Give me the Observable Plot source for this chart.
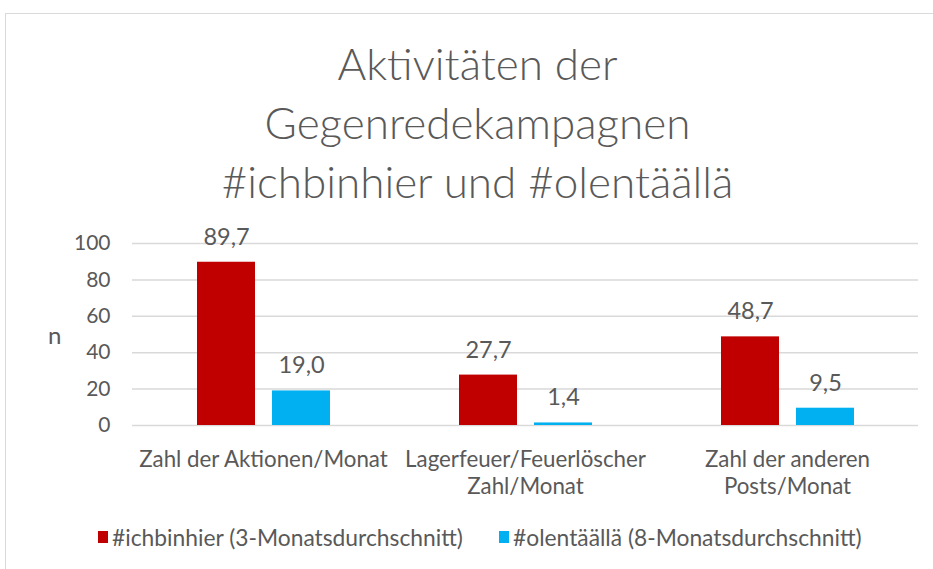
<!DOCTYPE html>
<html>
<head>
<meta charset="utf-8">
<script src="https://cdn.jsdelivr.net/npm/d3@7"></script>
<script src="https://cdn.jsdelivr.net/npm/@observablehq/plot@0.6"></script>
<style>
  html, body { margin: 0; padding: 0; background: #fff; }
  #wrap { position: relative; width: 933px; height: 569px; overflow: hidden; font-family: Lato, sans-serif; color: #595959; }
  #frame { position: absolute; left: 5px; top: 13px; width: 960px; height: 600px; border: 1px solid #d9d9d9; box-sizing: border-box; }
  #title { position: absolute; left: 0; top: 34px; width: 955px; text-align: center; font-size: 44px; font-weight: 300; line-height: 59px; color: #595959; }
  #chart { position: absolute; left: 0; top: 220px; }
  #ylab { position: absolute; left: 48px; top: 320px; font-size: 24px; line-height: 30px; }
  .sw { position: absolute; width: 10px; height: 12px; top: 531px; }
  .lt { position: absolute; top: 522px; font-size: 22.8px; line-height: 30px; white-space: nowrap; }
</style>
</head>
<body>
<div id="wrap">
  <div id="frame"></div>
  <div id="title">Aktivitäten der<br>Gegenredekampagnen<br>#ichbinhier und #olentäällä</div>
  <div id="ylab">n</div>
  <div id="chart"></div>
  <div id="legend"></div>
</div>
<script>
const categories = ["Zahl der Aktionen/Monat", "Lagerfeuer/Feuerlöscher Zahl/Monat", "Zahl der anderen Posts/Monat"];
const categoryLabels = ["Zahl der Aktionen/Monat", "Lagerfeuer/Feuerlöscher\nZahl/Monat", "Zahl der anderen\nPosts/Monat"];
const seriesNames = ["#ichbinhier (3-Monatsdurchschnitt)", "#olentäällä (8-Monatsdurchschnitt)"];
const ichbinhier = [89.7, 27.7, 48.7];
const olentaalla = [19.0, 1.4, 9.5];
const yTicks = [0, 20, 40, 60, 80, 100];
const colors = ["#C00000", "#00B0F0"];

const data = [];
categories.forEach((c, i) => {
  data.push({category: c, series: seriesNames[0], value: ichbinhier[i]});
  data.push({category: c, series: seriesNames[1], value: olentaalla[i]});
});
const labelOf = new Map(categories.map((c, i) => [c, categoryLabels[i]]));
const fmt = v => v.toFixed(1).replace(".", ",");

const chart = Plot.plot({
  width: 933,
  height: 290,
  marginLeft: 132,
  marginRight: 15,
  marginTop: 23,
  marginBottom: 85,
  style: {fontFamily: "Lato, sans-serif", fontSize: "21px", color: "#595959", background: "transparent"},
  fx: {domain: categories, padding: 0, label: null, axis: null},
  x: {domain: seriesNames, axis: null, paddingInner: 0.2267, paddingOuter: 0.86},
  y: {domain: [0, 100], axis: null},
  color: {domain: seriesNames, range: colors},
  marks: [
    Plot.gridY(yTicks, {stroke: "#d9d9d9", strokeOpacity: 1, strokeWidth: 1.5}),
    Plot.axisY(yTicks, {tickSize: 0, tickPadding: 22, tickFormat: d => String(d), label: null, fontSize: 21, facetAnchor: "left"}),
    Plot.axisFx({anchor: "bottom", tickSize: 0, tickPadding: 22, lineHeight: 1.21, fontSize: 22.3, label: null, tickFormat: d => labelOf.get(d)}),
    Plot.barY(data, {fx: "category", x: "series", y: "value", fill: "series"}),
    Plot.text(data, {fx: "category", x: "series", y: "value", text: d => fmt(d.value), dy: -25, lineAnchor: "middle", fill: "#595959", fontSize: 23.5})
  ]
});
document.getElementById("chart").appendChild(chart);

const legend = document.getElementById("legend");
const swLeft = [98, 499];
const txLeft = [112, 513];
seriesNames.forEach((s, i) => {
  const sw = document.createElement("div");
  sw.className = "sw";
  sw.style.left = swLeft[i] + "px";
  sw.style.background = colors[i];
  legend.appendChild(sw);
  const t = document.createElement("div");
  t.className = "lt";
  t.style.left = txLeft[i] + "px";
  t.textContent = s;
  legend.appendChild(t);
});
</script>
</body>
</html>
